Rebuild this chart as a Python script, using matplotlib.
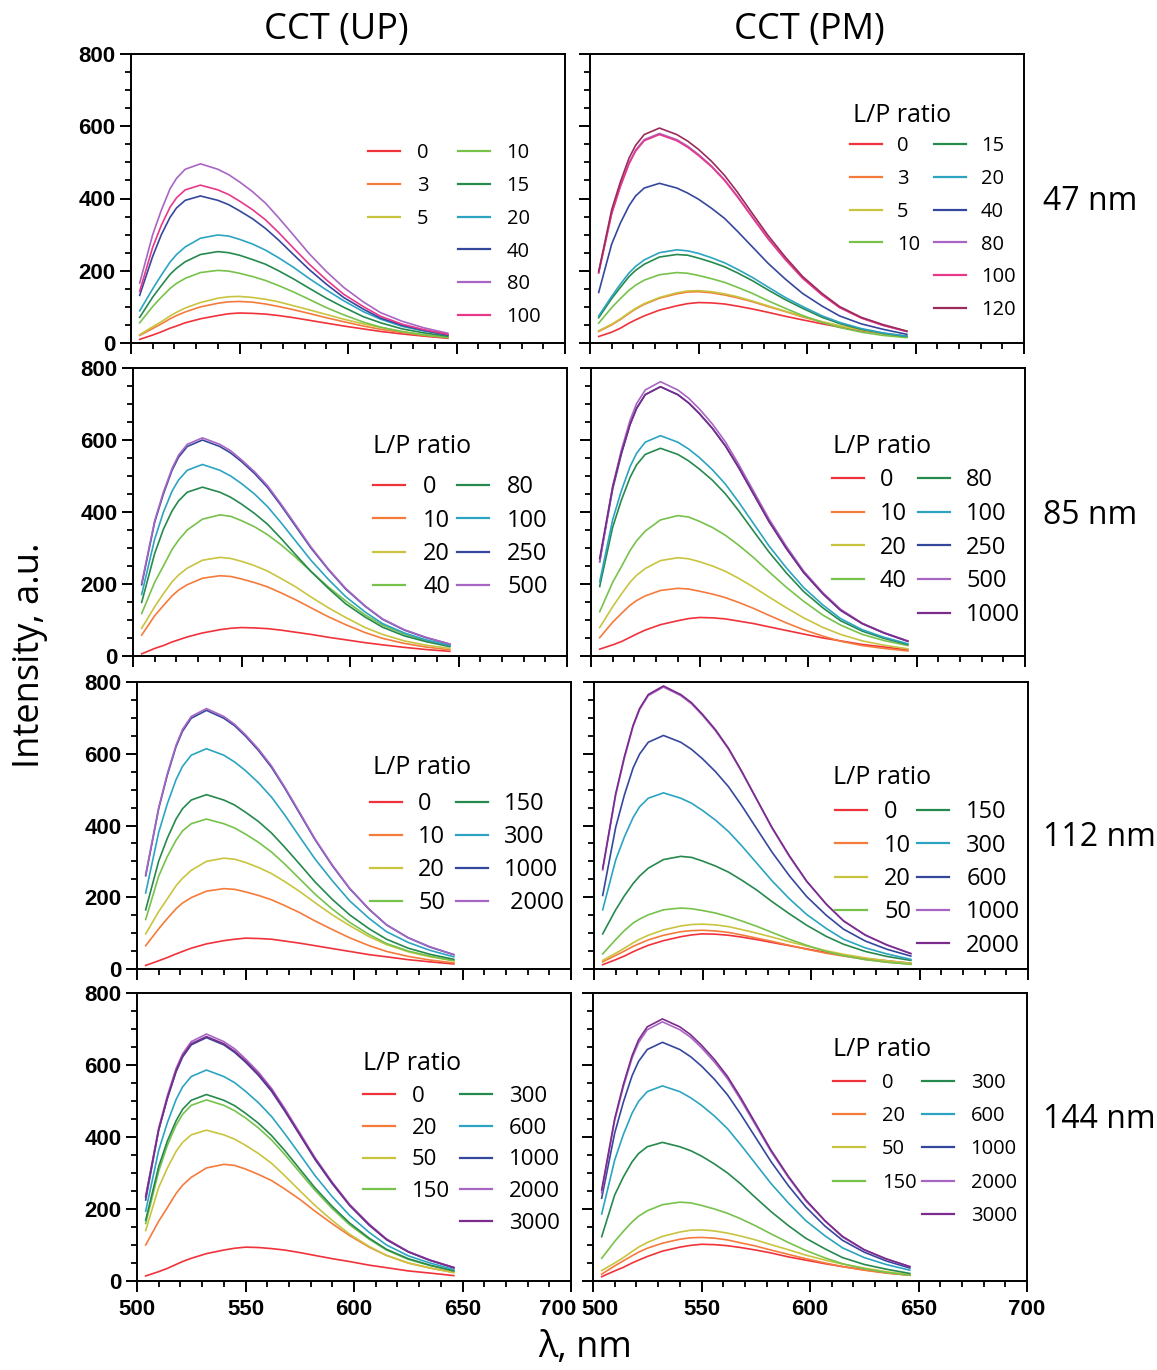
import matplotlib
matplotlib.use("Agg")
import matplotlib.pyplot as plt
from matplotlib.lines import Line2D
from matplotlib.transforms import ScaledTranslation

# ---------------------------------------------------------------- data
wavelength = [504, 510, 514, 518, 521, 525, 532, 540, 545, 550, 556,
              562, 568, 575, 582, 590, 598, 607, 615, 625, 635, 646]

# 47 nm, UP
up47_ratios = ["0", "3", "5", "10", "15", "20", "40", "80", "100"]
up47 = [
    [10, 22, 31, 41, 47, 56, 67, 76, 81, 83, 82, 80, 76, 70, 63, 55, 47, 39, 32, 25, 19, 13],
    [21, 40, 53, 67, 76, 86, 100, 110, 114, 115, 113, 108, 101, 92, 82, 70, 59, 47, 38, 29, 21, 15],
    [23, 45, 59, 75, 85, 97, 112, 124, 128, 129, 126, 121, 114, 103, 92, 79, 66, 53, 43, 32, 23, 17],
    [56, 101, 127, 151, 165, 179, 195, 201, 199, 193, 184, 173, 159, 141, 121, 98, 78, 58, 44, 31, 22, 15],
    [71, 127, 159, 190, 207, 225, 245, 253, 250, 243, 231, 218, 200, 177, 152, 124, 99, 73, 56, 39, 28, 19],
    [89, 150, 188, 224, 245, 266, 290, 299, 296, 287, 274, 257, 236, 209, 179, 147, 117, 87, 66, 46, 33, 22],
    [132, 240, 300, 348, 374, 395, 407, 395, 383, 366, 344, 317, 285, 244, 204, 163, 126, 94, 69, 49, 35, 22],
    [166, 300, 368, 427, 456, 481, 496, 481, 466, 446, 419, 387, 347, 298, 248, 198, 154, 114, 84, 60, 42, 27],
    [143, 265, 326, 376, 402, 424, 437, 424, 411, 393, 369, 341, 306, 262, 219, 175, 135, 101, 74, 52, 37, 24],
]

# 47 nm, PM
pm47_ratios = ["0", "3", "5", "10", "15", "20", "40", "80", "100", "120"]
pm47 = [
    [18, 30, 41, 55, 64, 75, 91, 103, 109, 112, 111, 108, 102, 94, 85, 74, 64, 53, 44, 34, 26, 18],
    [32, 50, 65, 82, 94, 107, 124, 136, 141, 142, 139, 133, 125, 114, 101, 87, 72, 58, 47, 36, 26, 18],
    [34, 52, 67, 84, 96, 109, 126, 139, 144, 145, 142, 136, 128, 116, 103, 88, 74, 59, 48, 36, 26, 19],
    [55, 98, 123, 146, 160, 174, 189, 195, 193, 187, 178, 168, 154, 137, 117, 96, 76, 57, 43, 30, 21, 15],
    [70, 123, 154, 184, 201, 218, 238, 245, 243, 235, 224, 211, 194, 172, 147, 120, 96, 71, 54, 38, 27, 18],
    [75, 129, 163, 194, 212, 230, 250, 258, 255, 248, 236, 222, 204, 181, 155, 126, 101, 75, 57, 40, 28, 19],
    [140, 274, 332, 380, 407, 429, 442, 429, 415, 398, 373, 345, 309, 265, 221, 177, 137, 102, 75, 53, 38, 24],
    [195, 360, 435, 499, 534, 563, 580, 563, 545, 522, 490, 452, 406, 348, 290, 232, 180, 133, 99, 70, 49, 32],
    [194, 358, 433, 496, 531, 560, 577, 560, 542, 519, 488, 450, 404, 346, 289, 231, 179, 133, 98, 69, 49, 32],
    [198, 369, 446, 512, 547, 577, 595, 577, 559, 536, 503, 464, 417, 357, 298, 238, 184, 137, 101, 71, 51, 33],
]

# 85 nm, UP
up85_ratios = ["0", "10", "20", "40", "80", "100", "250", "500"]
up85 = [
    [6, 21, 29, 39, 45, 53, 64, 73, 77, 79, 78, 76, 72, 66, 60, 52, 45, 37, 31, 24, 18, 13],
    [58, 112, 140, 167, 183, 198, 216, 223, 221, 214, 204, 192, 176, 156, 134, 109, 87, 65, 49, 35, 25, 17],
    [77, 137, 173, 206, 225, 244, 266, 274, 271, 263, 251, 236, 216, 192, 164, 134, 107, 79, 60, 42, 30, 21],
    [118, 205, 250, 296, 322, 350, 380, 392, 388, 376, 359, 337, 310, 274, 235, 192, 153, 114, 86, 61, 43, 29],
    [149, 285, 352, 403, 431, 455, 469, 455, 441, 422, 396, 366, 328, 281, 235, 188, 145, 108, 80, 56, 40, 26],
    [171, 325, 399, 458, 489, 516, 532, 516, 500, 479, 450, 415, 372, 319, 266, 213, 165, 122, 90, 64, 45, 29],
    [198, 372, 450, 516, 552, 582, 600, 582, 564, 540, 507, 468, 420, 360, 300, 240, 186, 138, 102, 72, 51, 33],
    [202, 376, 455, 521, 558, 588, 606, 588, 570, 545, 512, 473, 424, 364, 303, 242, 188, 139, 103, 73, 52, 33],
]

# 85 nm, PM
pm85_ratios = ["0", "10", "20", "40", "80", "100", "250", "500", "1000"]
pm85 = [
    [19, 31, 40, 52, 61, 72, 87, 98, 104, 107, 106, 103, 97, 90, 81, 71, 61, 50, 42, 32, 25, 17],
    [51, 94, 118, 141, 154, 167, 182, 188, 186, 180, 172, 162, 149, 132, 113, 92, 73, 55, 41, 29, 21, 14],
    [79, 137, 172, 205, 224, 243, 265, 273, 270, 262, 250, 235, 216, 191, 164, 134, 106, 79, 60, 42, 30, 20],
    [123, 205, 248, 293, 320, 347, 378, 390, 386, 374, 357, 335, 308, 273, 234, 191, 152, 113, 86, 60, 43, 29],
    [193, 358, 433, 496, 531, 560, 577, 560, 542, 519, 488, 450, 404, 346, 289, 231, 179, 133, 98, 69, 49, 32],
    [206, 379, 459, 526, 563, 594, 612, 594, 575, 551, 517, 477, 428, 367, 306, 245, 190, 141, 104, 73, 52, 34],
    [262, 464, 561, 643, 688, 726, 748, 726, 703, 673, 632, 583, 524, 449, 374, 299, 232, 172, 127, 90, 64, 41],
    [262, 472, 572, 655, 701, 739, 762, 739, 716, 686, 644, 594, 533, 457, 381, 305, 236, 175, 130, 91, 65, 42],
    [271, 470, 565, 643, 688, 726, 748, 726, 703, 673, 632, 583, 524, 449, 374, 299, 232, 172, 127, 90, 64, 41],
]

# 112 nm, UP
up112_ratios = ["0", "10", "20", "50", "150", "300", "1000", " 2000"]
up112 = [
    [10, 23, 32, 42, 49, 58, 70, 79, 83, 86, 85, 83, 78, 72, 65, 57, 49, 40, 34, 26, 20, 14],
    [65, 112, 141, 168, 184, 199, 217, 224, 222, 215, 205, 193, 177, 157, 134, 110, 87, 65, 49, 35, 25, 17],
    [98, 160, 196, 232, 253, 275, 300, 309, 306, 297, 283, 266, 244, 216, 185, 151, 121, 90, 68, 48, 34, 23],
    [138, 259, 314, 359, 385, 405, 418, 405, 393, 376, 353, 326, 293, 251, 209, 167, 130, 96, 71, 50, 36, 23],
    [165, 301, 365, 418, 447, 471, 486, 471, 457, 437, 411, 379, 340, 292, 243, 194, 151, 112, 83, 58, 41, 27],
    [212, 381, 461, 528, 565, 596, 614, 596, 577, 553, 519, 479, 430, 368, 307, 246, 190, 141, 104, 74, 52, 34],
    [260, 447, 541, 620, 663, 699, 721, 699, 678, 649, 609, 562, 505, 433, 361, 288, 224, 166, 123, 87, 61, 40],
    [263, 450, 545, 624, 668, 704, 726, 704, 682, 653, 613, 566, 508, 436, 363, 290, 225, 167, 123, 87, 62, 40],
]

# 112 nm, PM
pm112_ratios = ["0", "10", "20", "50", "150", "300", "600", "1000", "2000"]
pm112 = [
    [12, 26, 36, 48, 56, 66, 79, 90, 95, 98, 97, 94, 89, 82, 74, 65, 56, 46, 38, 29, 23, 16],
    [20, 38, 50, 63, 71, 81, 94, 104, 107, 108, 106, 102, 95, 86, 77, 66, 55, 44, 36, 27, 19, 14],
    [24, 44, 58, 73, 83, 94, 109, 120, 124, 125, 123, 118, 110, 100, 89, 76, 64, 51, 41, 31, 23, 16],
    [42, 82, 107, 128, 139, 151, 165, 170, 168, 163, 156, 146, 134, 119, 102, 83, 66, 49, 37, 26, 19, 13],
    [98, 165, 204, 238, 259, 281, 305, 314, 311, 301, 287, 270, 248, 220, 188, 154, 122, 91, 69, 49, 35, 24],
    [165, 304, 368, 422, 452, 476, 491, 476, 462, 442, 415, 383, 344, 295, 246, 196, 152, 113, 83, 59, 42, 27],
    [205, 395, 485, 560, 599, 632, 651, 632, 612, 586, 550, 508, 456, 391, 326, 260, 202, 150, 111, 78, 55, 36],
    [276, 485, 588, 676, 723, 762, 786, 762, 739, 707, 664, 613, 550, 472, 393, 314, 244, 181, 134, 94, 67, 43],
    [280, 489, 592, 679, 726, 765, 789, 765, 742, 710, 667, 615, 552, 473, 395, 316, 245, 181, 134, 95, 67, 43],
]

# 144 nm, UP
up144_ratios = ["0", "20", "50", "150", "300", "600", "1000", "2000", "3000"]
up144 = [
    [14, 26, 35, 46, 54, 63, 76, 86, 91, 94, 93, 90, 86, 79, 71, 62, 54, 44, 37, 28, 22, 15],
    [100, 166, 204, 243, 266, 288, 314, 324, 321, 311, 296, 279, 256, 227, 194, 159, 126, 94, 71, 50, 36, 24],
    [140, 260, 314, 360, 385, 406, 419, 406, 394, 377, 354, 327, 293, 251, 210, 168, 130, 96, 71, 50, 36, 23],
    [160, 305, 377, 433, 463, 488, 503, 488, 473, 453, 425, 392, 352, 302, 252, 201, 156, 116, 86, 60, 43, 28],
    [169, 318, 389, 445, 477, 502, 518, 502, 487, 466, 438, 404, 363, 311, 259, 207, 161, 119, 88, 62, 44, 28],
    [194, 363, 440, 504, 539, 568, 586, 568, 551, 527, 495, 457, 410, 352, 293, 234, 182, 135, 100, 70, 50, 32],
    [225, 419, 507, 581, 622, 656, 676, 656, 635, 608, 571, 527, 473, 406, 338, 270, 210, 155, 115, 81, 57, 37],
    [234, 425, 515, 590, 631, 665, 686, 665, 645, 617, 580, 535, 480, 412, 343, 274, 213, 158, 117, 82, 58, 38],
    [234, 421, 509, 584, 625, 659, 679, 659, 638, 611, 574, 530, 475, 407, 340, 272, 210, 156, 115, 81, 58, 37],
]

# 144 nm, PM
pm144_ratios = ["0", "20", "50", "150", "300", "600", "1000", "2000", "3000"]
pm144 = [
    [12, 28, 38, 50, 58, 68, 83, 94, 99, 102, 101, 98, 93, 86, 78, 67, 58, 48, 40, 31, 23, 16],
    [19, 42, 56, 70, 80, 91, 105, 116, 120, 121, 119, 114, 106, 97, 86, 74, 62, 50, 40, 30, 22, 16],
    [29, 50, 65, 82, 94, 107, 124, 136, 141, 142, 139, 133, 125, 114, 101, 87, 72, 58, 47, 36, 26, 18],
    [63, 110, 138, 164, 180, 195, 212, 219, 217, 210, 200, 188, 173, 153, 131, 107, 85, 64, 48, 34, 24, 16],
    [123, 239, 289, 331, 354, 373, 385, 373, 362, 347, 325, 300, 270, 231, 193, 154, 119, 89, 65, 46, 33, 21],
    [186, 336, 407, 466, 499, 526, 542, 526, 509, 488, 458, 423, 379, 325, 271, 217, 168, 125, 92, 65, 46, 30],
    [230, 411, 497, 570, 610, 643, 663, 643, 623, 597, 560, 517, 464, 398, 332, 265, 206, 152, 113, 80, 56, 36],
    [245, 446, 540, 619, 662, 698, 720, 698, 677, 648, 608, 562, 504, 432, 360, 288, 223, 166, 122, 86, 61, 40],
    [253, 451, 546, 626, 670, 706, 728, 706, 684, 655, 615, 568, 510, 437, 364, 291, 226, 167, 124, 87, 62, 40],
]

size_labels = ["47 nm", "85 nm", "112 nm", "144 nm"]
column_titles = ["CCT (UP)", "CCT (PM)"]
legend_title = "L/P ratio"

# ---------------------------------------------------------------- styles
RED, ORANGE, YELLOW = "#f0323b", "#f57b3c", "#c9c43f"
LGREEN, GREEN, CYAN = "#77c24b", "#26894d", "#2ca4c1"
BLUE, LAVENDER = "#35479d", "#a866c4"
PINK, DARKMAG, DPURPLE = "#e8388a", "#9b2b5b", "#7a2b8b"

base_colors = [RED, ORANGE, YELLOW, LGREEN, GREEN, CYAN, BLUE, LAVENDER]

W, H = 1157, 1370
fig = plt.figure(figsize=(W / 100, H / 100), dpi=100)
TEXT_FONT = ["Open Sans", "DejaVu Sans"]
TICK_FONT = "Liberation Sans"

row_top = [54, 368, 682, 993]
row_bot = [343, 656, 969, 1281]
left_x0 = [131, 133, 137, 137]
right_x0 = [590, 591, 594, 593]
AX_W = 434

# legend layout per panel (pixels): first-column count, left edge, centre of
# the first entry row, title centre, font size, column gap, row pitch, text gap
legend_cfg = {
    (0, 0): dict(n1=3, x=368, row0=153, title=None, fs=14.5, col=29, row=33, pad=17),
    (0, 1): dict(n1=4, x=850, row0=146, title=(853, 115), fs=14.5, col=14, row=33, pad=15),
    (1, 0): dict(n1=4, x=373, row0=487, title=(373, 447), fs=17, col=7, row=33, pad=18),
    (1, 1): dict(n1=4, x=832, row0=480, title=(833, 447), fs=17, col=11, row=33.3, pad=16),
    (2, 0): dict(n1=4, x=370, row0=804, title=(373, 767), fs=17, col=11, row=32.7, pad=16),
    (2, 1): dict(n1=4, x=835, row0=812, title=(833, 777), fs=17, col=6, row=33, pad=17),
    (3, 0): dict(n1=4, x=363, row0=1097, title=(363, 1064), fs=16, col=10, row=33, pad=17),
    (3, 1): dict(n1=4, x=833, row0=1083, title=(833, 1050), fs=14.5, col=5, row=33.4, pad=17),
}

panels = [
    [(up47_ratios, up47), (pm47_ratios, pm47)],
    [(up85_ratios, up85), (pm85_ratios, pm85)],
    [(up112_ratios, up112), (pm112_ratios, pm112)],
    [(up144_ratios, up144), (pm144_ratios, pm144)],
]


def colors_for(r, n):
    cols = list(base_colors[:min(n, 8)])
    if n > 8:
        cols.append(PINK if r == 0 else DPURPLE)
    if n > 9:
        cols.append(DARKMAG)
    return cols


def add_legend(ax, lines, labels, cfg):
    n1 = cfg["n1"]
    n2 = len(lines) - n1
    k = max(n1, n2)
    blank = Line2D([], [], color="none")
    handles = lines[:n1] + [blank] * (k - n1) + lines[n1:] + [blank] * (k - n2)
    labs = labels[:n1] + [""] * (k - n1) + labels[n1:] + [""] * (k - n2)
    fs_px = cfg["fs"] * 100 / 72
    top = cfg["row0"] - 0.5 * fs_px
    leg = ax.legend(
        handles, labs, ncol=2, loc="upper left",
        bbox_to_anchor=(cfg["x"] / W, 1 - top / H),
        bbox_transform=fig.transFigure, frameon=False,
        borderpad=0, borderaxespad=0,
        handlelength=32 / fs_px, handletextpad=cfg["pad"] / fs_px,
        columnspacing=cfg["col"] / fs_px,
        labelspacing=max(cfg["row"] - fs_px * 1.0, 0) / fs_px,
        prop={"family": TEXT_FONT, "size": cfg["fs"]},
    )
    for h in leg.legend_handles:
        h.set_linewidth(1.6)
    if cfg["title"]:
        tx, ty = cfg["title"]
        fig.text(tx / W, 1 - ty / H, legend_title, ha="left", va="center",
                 fontsize=18, family=TEXT_FONT)


for r in range(4):
    for c in range(2):
        x0 = left_x0[r] if c == 0 else right_x0[r]
        ax = fig.add_axes([x0 / W, 1 - row_bot[r] / H, AX_W / W,
                           (row_bot[r] - row_top[r]) / H])
        ratios, series = panels[r][c]
        cols = colors_for(r, len(ratios))
        lines = []
        for lab, ys, col in zip(ratios, series, cols):
            ln, = ax.plot(wavelength, ys, color=col, lw=1.2)
            lines.append(ln)

        ax.set_xlim(500, 700)
        ax.set_ylim(0, 800)
        ax.set_xticks([500, 550, 600, 650, 700])
        ax.set_xticks(range(500, 701, 10), minor=True)
        ax.set_yticks(range(0, 801, 200))
        ax.set_yticks(range(0, 801, 50), minor=True)
        ax.tick_params(which="major", direction="out", length=8, width=1.4,
                       top=False, right=False, pad=3, labelsize=16)
        ax.tick_params(which="minor", direction="out", length=4.5, width=1.3,
                       top=False, right=False)
        ax.tick_params(axis="x", pad=5)
        for sp in ax.spines.values():
            sp.set_linewidth(1.4)
        ax.tick_params(labelleft=(c == 0), labelbottom=(r == 3))
        for lab in ax.get_xticklabels() + ax.get_yticklabels():
            lab.set_fontfamily(TICK_FONT)
            lab.set_fontweight("bold")

        # the neighbouring 700 / 500 labels sit apart from each other
        if r == 3:
            xl = ax.get_xticklabels()
            if c == 0:
                xl[-1].set_transform(xl[-1].get_transform()
                                     + ScaledTranslation(-0.13, 0, fig.dpi_scale_trans))
            else:
                xl[0].set_transform(xl[0].get_transform()
                                    + ScaledTranslation(0.07, 0, fig.dpi_scale_trans))

        add_legend(ax, lines, list(ratios), legend_cfg[(r, c)])

# column titles, size labels, axis titles
fig.text(336 / W, 1 - 30 / H, column_titles[0], ha="center", va="center",
         fontsize=26, family=TEXT_FONT)
fig.text(809 / W, 1 - 30 / H, column_titles[1], ha="center", va="center",
         fontsize=26, family=TEXT_FONT)
for lab, yc in zip(size_labels, [202, 515, 838, 1120]):
    fig.text(1043 / W, 1 - yc / H, lab, ha="left", va="center",
             fontsize=23, family=TEXT_FONT)
fig.text(30 / W, 1 - 655 / H, "Intensity, a.u.", rotation=90, ha="center",
         va="center", fontsize=26, family=TEXT_FONT)
fig.text(585 / W, 1 - 1348 / H, "λ, nm", ha="center", va="center",
         fontsize=26, family=TEXT_FONT)

fig.savefig("out.png", dpi=100)
